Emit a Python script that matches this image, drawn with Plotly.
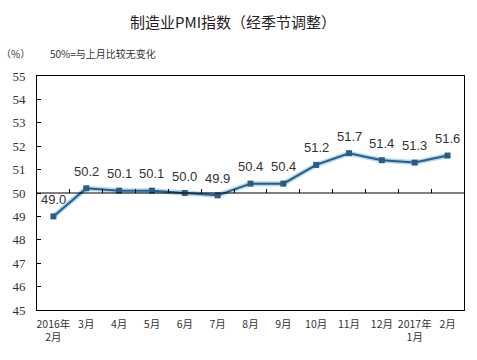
import plotly.graph_objects as go

categories = ["2016年<br>2月", "3月", "4月", "5月", "6月", "7月", "8月", "9月",
              "10月", "11月", "12月", "2017年<br>1月", "2月"]
pmi_values = [49.0, 50.2, 50.1, 50.1, 50.0, 49.9, 50.4, 50.4, 51.2, 51.7, 51.4, 51.3, 51.6]
value_labels = ["49.0", "50.2", "50.1", "50.1", "50.0", "49.9", "50.4", "50.4",
                "51.2", "51.7", "51.4", "51.3", "51.6"]
y_ticks = [45, 46, 47, 48, 49, 50, 51, 52, 53, 54, 55]
boundary_ticks = [0.5, 1.5, 2.5, 3.5, 4.5, 5.5, 6.5, 7.5, 8.5, 9.5, 10.5, 11.5]

x_idx = list(range(len(categories)))

fig = go.Figure()
# glow
fig.add_trace(go.Scatter(x=x_idx, y=pmi_values, mode="lines",
                         line=dict(color="rgba(140,200,235,0.7)", width=5),
                         hoverinfo="skip", showlegend=False))
fig.add_trace(go.Scatter(x=x_idx, y=pmi_values, mode="lines+markers",
                         line=dict(color="#2B5C88", width=2),
                         marker=dict(symbol="square", size=6, color="#2B5C88"),
                         showlegend=False))
# invisible trace for the 50-line tick axis
fig.add_trace(go.Scatter(x=[x_idx[0]], y=[pmi_values[0]], xaxis="x2", mode="markers",
                         marker=dict(opacity=0), hoverinfo="skip", showlegend=False))

for xi, v, lab in zip(x_idx, pmi_values, value_labels):
    fig.add_annotation(x=xi, y=v, text=lab, showarrow=False, yshift=17,
                       font=dict(family="Liberation Sans, Arial", size=13, color="#333333"))

fig.add_hline(y=50, line=dict(color="black", width=1))

fig.update_layout(
    template="none",
    width=477, height=360,
    margin=dict(l=37, r=13, t=76, b=50, autoexpand=False),
    paper_bgcolor="white", plot_bgcolor="white",
    xaxis=dict(range=[-0.5, 12.5], tickvals=x_idx, ticktext=categories,
               showline=True, linecolor="black", linewidth=1, mirror=True,
               ticks="", showgrid=False, zeroline=False, automargin=False,
               ticklabelstandoff=4,
               tickfont=dict(family="Noto Sans CJK SC", size=10.5, color="#333333")),
    xaxis2=dict(range=[-0.5, 12.5], overlaying="x", anchor="free", position=0.5,
                side="top", tickvals=boundary_ticks, ticks="outside", ticklen=4,
                tickcolor="black", showticklabels=False, showline=False,
                showgrid=False, zeroline=False, automargin=False),
    yaxis=dict(range=[45, 55], tickvals=y_ticks, ticks="inside", ticklen=4,
               tickcolor="black", showline=True, linecolor="black", linewidth=1,
               mirror=True, showgrid=False, zeroline=False, automargin=False,
               ticklabelstandoff=8,
               tickfont=dict(family="Liberation Serif", size=13, color="#333333")),
)

fig.add_annotation(xref="paper", yref="paper", x=0.46, y=1.0, yshift=55,
                   xanchor="center", yanchor="middle",
                   text="制造业PMI指数（经季节调整）", showarrow=False,
                   font=dict(family="Noto Sans CJK SC", size=15, color="#222222"))
fig.add_annotation(xref="paper", yref="paper", x=-0.09, xanchor="left", y=1.0, yshift=23,
                   yanchor="middle",
                   text="（%）", showarrow=False,
                   font=dict(family="Noto Sans CJK SC", size=10, color="#333333"))
fig.add_annotation(xref="paper", yref="paper", x=0.025, xanchor="left", y=1.0, yshift=23,
                   yanchor="middle",
                   text="50%=与上月比较无变化", showarrow=False,
                   font=dict(family="Noto Sans CJK SC", size=10, color="#333333"))

fig.write_html("out.html", config={"displayModeBar": False},
               post_script="document.body.style.margin='0';document.body.style.overflow='hidden';")
